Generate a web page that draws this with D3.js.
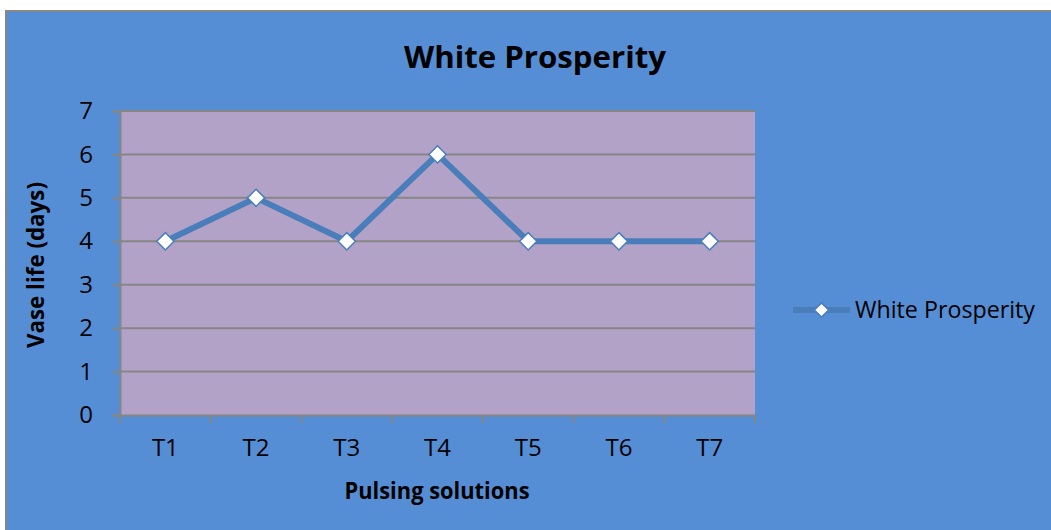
<!DOCTYPE html>
<html>
<head>
<meta charset="utf-8">
<script src="https://cdn.jsdelivr.net/npm/d3@7"></script>
<style>
  html, body { margin: 0; padding: 0; background: #ffffff; }
  svg { display: block; }
  text { font-family: "Open Sans", "Noto Sans", sans-serif; fill: #000; }
</style>
</head>
<body>
<svg id="chart" width="1051" height="530"></svg>
<script>
// Vase life of White Prosperity under each pulsing solution
const treatments = ["T1", "T2", "T3", "T4", "T5", "T6", "T7"];
const vaseLife = [4, 5, 4, 6, 4, 4, 4];
const yTicks = [0, 1, 2, 3, 4, 5, 6, 7];

const chartTitle = "White Prosperity";
const seriesName = "White Prosperity";
const xTitle = "Pulsing solutions";
const yTitle = "Vase life (days)";

const W = 1051, H = 530;
const plot = { left: 120, right: 755, top: 111, bottom: 415 };

const lineColor = "#4a7ebb";
const gridColor = "#868686";

const svg = d3.select("#chart");

// chart area
svg.append("rect")
  .attr("x", 6).attr("y", 11)
  .attr("width", W + 10).attr("height", H + 10)
  .attr("fill", "#558ed5")
  .attr("stroke", "#878787").attr("stroke-width", 2);

// plot area
svg.append("rect")
  .attr("x", plot.left).attr("y", plot.top)
  .attr("width", plot.right - plot.left).attr("height", plot.bottom - plot.top)
  .attr("fill", "#b3a2c7");

const x = d3.scaleBand().domain(treatments).range([plot.left, plot.right]).padding(0);
const y = d3.scaleLinear().domain([0, 7]).range([plot.bottom, plot.top]);

// horizontal gridlines
svg.append("g")
  .selectAll("line")
  .data(yTicks.filter(d => d > 0))
  .join("line")
  .attr("x1", plot.left).attr("x2", plot.right)
  .attr("y1", d => y(d)).attr("y2", d => y(d))
  .attr("stroke", gridColor).attr("stroke-width", 2);

// y axis
const yAxis = svg.append("g")
  .attr("transform", `translate(${plot.left},0)`)
  .call(d3.axisLeft(y).tickValues(yTicks).tickFormat(d3.format("d")).tickSize(8).tickPadding(19));
yAxis.select(".domain").attr("stroke", gridColor).attr("stroke-width", 2);
yAxis.selectAll(".tick line").attr("stroke", gridColor).attr("stroke-width", 2);
yAxis.selectAll(".tick text")
  .attr("font-size", 24).attr("fill", "#000")
  .attr("font-family", '"Open Sans", sans-serif');

// x axis: tick marks at category boundaries
const xAxis = svg.append("g")
  .attr("transform", `translate(0,${plot.bottom})`)
  .call(d3.axisBottom(x).tickSize(0).tickPadding(24));
xAxis.select(".domain").attr("stroke", gridColor).attr("stroke-width", 2);
xAxis.selectAll(".tick text")
  .attr("font-size", 24).attr("fill", "#000")
  .attr("font-family", '"Open Sans", sans-serif');
svg.append("g")
  .selectAll("line")
  .data(d3.range(treatments.length + 1))
  .join("line")
  .attr("x1", i => plot.left + i * x.step()).attr("x2", i => plot.left + i * x.step())
  .attr("y1", plot.bottom).attr("y2", plot.bottom + 8)
  .attr("stroke", gridColor).attr("stroke-width", 2);

// series line
const cx = (d, i) => x(treatments[i]) + x.bandwidth() / 2;
svg.append("path")
  .datum(vaseLife)
  .attr("fill", "none")
  .attr("stroke", lineColor)
  .attr("stroke-width", 6)
  .attr("stroke-linejoin", "round")
  .attr("d", d3.line().x(cx).y(d => y(d)));

// diamond markers
const diamond = d3.symbol().type(d3.symbolDiamond2).size(190);
svg.append("g")
  .selectAll("path")
  .data(vaseLife)
  .join("path")
  .attr("transform", (d, i) => `translate(${cx(d, i)},${y(d)})`)
  .attr("d", diamond)
  .attr("fill", "#fff")
  .attr("stroke", lineColor).attr("stroke-width", 1.5);

// titles
svg.append("text")
  .attr("x", 535).attr("y", 68)
  .attr("text-anchor", "middle")
  .attr("font-size", 30).attr("font-weight", "bold")
  .attr("textLength", 262).attr("lengthAdjust", "spacingAndGlyphs")
  .text(chartTitle);

svg.append("text")
  .attr("x", 437).attr("y", 499)
  .attr("text-anchor", "middle")
  .attr("font-size", 24).attr("font-weight", "bold")
  .attr("textLength", 185).attr("lengthAdjust", "spacingAndGlyphs")
  .text(xTitle);

svg.append("text")
  .attr("transform", "translate(44,265) rotate(-90)")
  .attr("text-anchor", "middle")
  .attr("font-size", 24).attr("font-weight", "bold")
  .attr("textLength", 166).attr("lengthAdjust", "spacingAndGlyphs")
  .text(yTitle);

// legend
const legend = svg.append("g").attr("transform", "translate(793,310)");
legend.append("line")
  .attr("x1", 0).attr("x2", 57).attr("y1", 0).attr("y2", 0)
  .attr("stroke", lineColor).attr("stroke-width", 6);
legend.append("path")
  .attr("transform", "translate(28.5,0)")
  .attr("d", d3.symbol().type(d3.symbolDiamond2).size(130))
  .attr("fill", "#fff")
  .attr("stroke", lineColor).attr("stroke-width", 1.5);
legend.append("text")
  .attr("x", 62).attr("y", 8)
  .attr("font-size", 23)
  .attr("textLength", 180).attr("lengthAdjust", "spacingAndGlyphs")
  .text(seriesName);
</script>
</body>
</html>
